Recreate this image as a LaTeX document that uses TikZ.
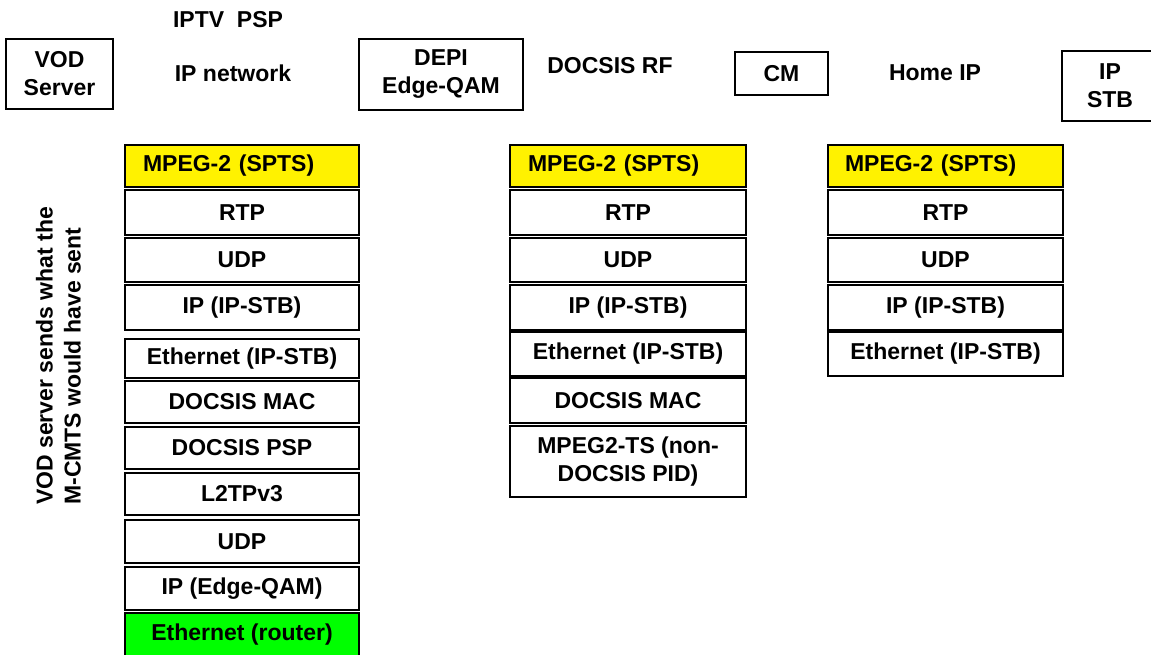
\documentclass[tikz,border=0pt]{standalone}
\usepackage{fontspec}
\setmainfont{Liberation Sans}
\begin{document}
\begin{tikzpicture}[x=1pt,y=-1pt,
  txt/.style={font=\bfseries\fontsize{23}{28}\selectfont, inner sep=0pt},
  dev/.style={txt, draw, line width=1.4pt, align=center},
  layer/.style={txt, draw, line width=1.4pt, minimum width=234pt},
  layerb/.style={layer, minimum width=236pt},
  layerc/.style={layer, minimum width=235pt},
  mpeg/.style={layer, fill=yellow, align=left, text width=198pt, inner xsep=18pt},
  mpegb/.style={mpeg, text width=200pt},
  mpegc/.style={mpeg, text width=201pt, inner xsep=17pt},
  router/.style={layer, fill=green}
]
\useasboundingbox (0,0) rectangle (1151,655);

% top row
\node[txt] (iptv) at (228,20) {IPTV\ \ PSP};
\node[dev, minimum width=107pt, minimum height=70pt] (vod) at (59.5,74) {VOD\\Server};
\node[txt] (ipnet) at (233,73) {IP network};
\node[dev, minimum width=164pt, minimum height=71pt] (depi) at (441,74.5) {DEPI\\Edge-QAM};
\node[txt] (rf) at (610,66) {DOCSIS RF};
\node[dev, minimum width=93pt, minimum height=43pt] (cm) at (781.5,73.5) {CM};
\node[txt] (home) at (935,73) {Home IP};
\node[dev, minimum width=96pt, minimum height=70pt] (stb) at (1110,86) {IP\\STB};

% rotated caption
\node[txt, rotate=90, anchor=west, align=left] (cap) at (58.5,505)
  {VOD server sends what the\\M-CMTS would have sent};

% stack 1
\node[mpeg, minimum height=42pt] (a1) at (242,166) {MPEG-2 (SPTS)};
\node[layer, minimum height=45pt] (a2) at (242,212.5) {RTP};
\node[layer, minimum height=44pt] (a3) at (242,260) {UDP};
\node[layer, minimum height=45pt] (a4) at (242,307.5) {IP (IP-STB)};
\node[layer, minimum height=39pt] (a5) at (242,358.5) {Ethernet (IP-STB)};
\node[layer, minimum height=42pt] (a6) at (242,402) {DOCSIS MAC};
\node[layer, minimum height=42pt] (a7) at (242,448) {DOCSIS PSP};
\node[layer, minimum height=42pt] (a8) at (242,494) {L2TPv3};
\node[layer, minimum height=43pt] (a9) at (242,541.5) {UDP};
\node[layer, minimum height=43pt] (a10) at (242,588.5) {IP (Edge-QAM)};
\node[router, minimum height=43pt] (a11) at (242,634.5) {Ethernet (router)};

% stack 2
\node[mpegb, minimum height=42pt] (b1) at (628,166) {MPEG-2 (SPTS)};
\node[layerb, minimum height=45pt] (b2) at (628,212.5) {RTP};
\node[layerb, minimum height=44pt] (b3) at (628,260) {UDP};
\node[layerb, minimum height=45pt] (b4) at (628,307.5) {IP (IP-STB)};
\node[layerb, minimum height=44pt] (b5) at (628,354) {Ethernet (IP-STB)};
\node[layerb, minimum height=45pt] (b6) at (628,400.5) {DOCSIS MAC};
\node[layerb, minimum height=71pt, align=center] (b7) at (628,461.5) {MPEG2-TS (non-\\DOCSIS PID)};

% stack 3
\node[mpegc, minimum height=42pt] (c1) at (945.5,166) {MPEG-2 (SPTS)};
\node[layerc, minimum height=45pt] (c2) at (945.5,212.5) {RTP};
\node[layerc, minimum height=44pt] (c3) at (945.5,260) {UDP};
\node[layerc, minimum height=45pt] (c4) at (945.5,307.5) {IP (IP-STB)};
\node[layerc, minimum height=44pt] (c5) at (945.5,354) {Ethernet (IP-STB)};
\end{tikzpicture}
\end{document}
